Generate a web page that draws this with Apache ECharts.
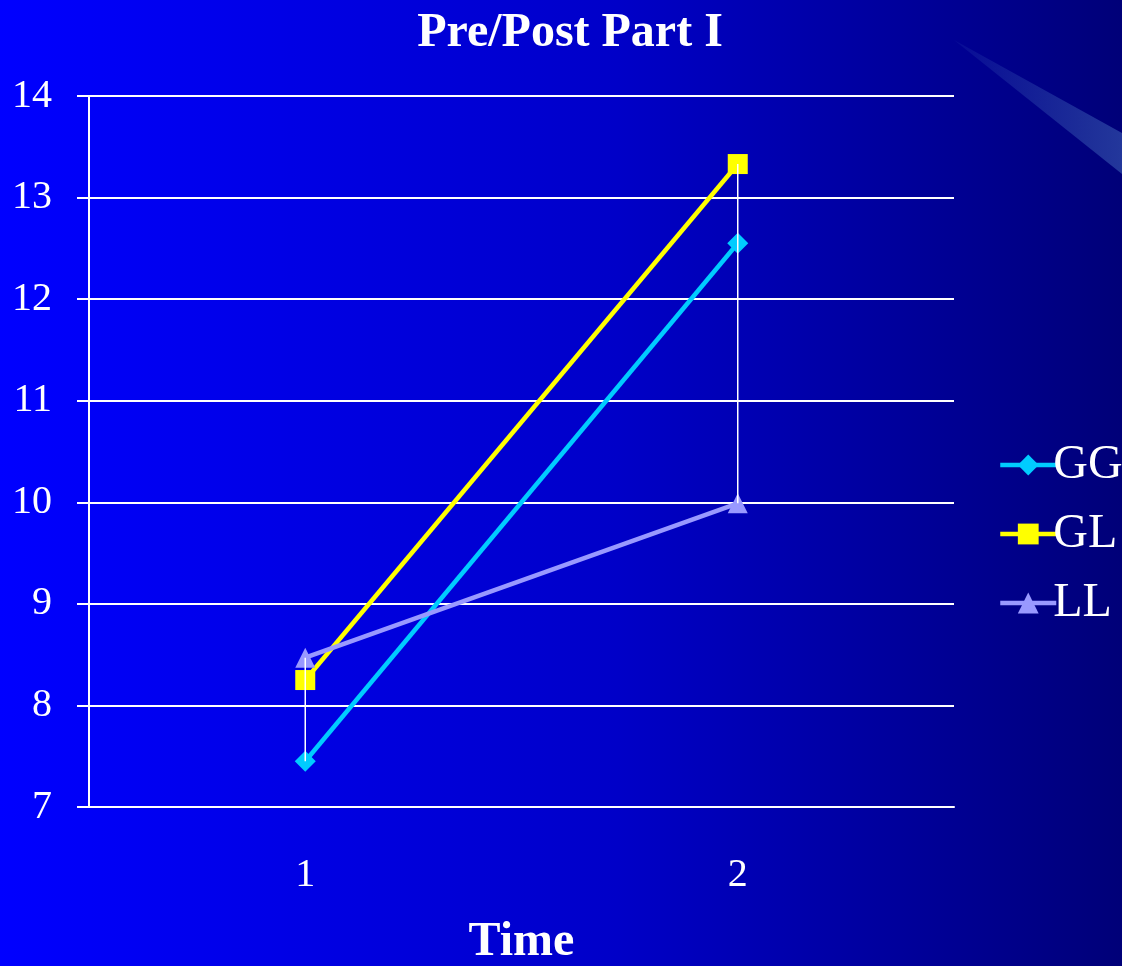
<!DOCTYPE html>
<html>
<head>
<meta charset="utf-8">
<script src="https://cdn.jsdelivr.net/npm/echarts@6/dist/echarts.min.js"></script>
<style>
html, body { margin: 0; padding: 0; }
#main { width: 1122px; height: 966px; }
</style>
</head>
<body>
<div id="main"></div>
<script>
// data
var categories = ['1', '2'];
var seriesNames = ['GG', 'GL', 'LL'];
var ggValues = [7.45, 12.55];
var glValues = [8.25, 13.33];
var llValues = [8.47, 9.99];
var yTicks = { min: 7, max: 14, step: 1 };

var colors = ['#00ccff', '#ffff00', '#9999ff'];
var serif = '"Liberation Serif", "DejaVu Serif", serif';

// high-low lines: min and max of all series at each category
var hiLo = categories.map(function(c, i) {
    var vals = [ggValues[i], glValues[i], llValues[i]];
    return [i, Math.min.apply(null, vals), Math.max.apply(null, vals)];
});

var myChart = echarts.init(document.getElementById('main'));

function lineSeries(name, data, symbol, size, color) {
    return {
        name: name,
        type: 'line',
        data: data,
        symbol: symbol,
        symbolSize: size,
        showAllSymbol: true,
        lineStyle: { color: color, width: 4.5 },
        itemStyle: { color: color, borderWidth: 0 },
        z: 3
    };
}

var option = {
    backgroundColor: {
        type: 'linear', x: 0, y: 0, x2: 1, y2: 0,
        colorStops: [
            { offset: 0, color: '#0000ff' },
            { offset: 0.55, color: '#0000c8' },
            { offset: 1, color: '#000078' }
        ]
    },
    graphic: [{
        type: 'polygon',
        shape: { points: [[954, 40], [1122, 133], [1122, 174]] },
        style: {
            fill: {
                type: 'linear', x: 0, y: 0, x2: 1, y2: 0,
                colorStops: [
                    { offset: 0, color: 'rgba(70,110,190,0.1)' },
                    { offset: 1, color: 'rgba(70,110,190,0.5)' }
                ]
            }
        },
        z: -1
    }],
    title: {
        text: 'Pre/Post Part I',
        left: 565,
        textAlign: 'center',
        top: 5,
        textStyle: { color: '#fff', fontFamily: serif, fontSize: 48, fontWeight: 'bold' }
    },
    legend: {
        orient: 'vertical',
        left: 993,
        top: 436,
        itemWidth: 56,
        itemHeight: 26,
        itemGap: 21,
        data: seriesNames,
        lineStyle: { width: 4.5 },
        textStyle: { color: '#fff', fontFamily: serif, fontSize: 48, padding: [0, 0, 0, -8] }
    },
    grid: { left: 89, right: 168, top: 96, bottom: 159, outerBoundsMode: 'none' },
    xAxis: {
        type: 'category',
        data: categories,
        boundaryGap: true,
        name: 'Time',
        nameLocation: 'middle',
        nameGap: 112,
        nameTextStyle: { color: '#fff', fontFamily: serif, fontSize: 48, fontWeight: 'bold' },
        axisLine: { show: true, lineStyle: { color: '#fff', width: 2 } },
        axisTick: { show: false },
        axisLabel: { color: '#fff', fontFamily: serif, fontSize: 40, margin: 48 }
    },
    yAxis: {
        type: 'value',
        min: yTicks.min,
        max: yTicks.max,
        interval: yTicks.step,
        axisLine: { show: true, lineStyle: { color: '#fff', width: 2 } },
        axisTick: { show: true, length: 12, lineStyle: { color: '#fff', width: 2 } },
        splitLine: { show: true, lineStyle: { color: '#fff', width: 2 } },
        axisLabel: { color: '#fff', fontFamily: serif, fontSize: 40, margin: 37 }
    },
    series: [
        lineSeries('GG', ggValues, 'diamond', 21, colors[0]),
        lineSeries('GL', glValues, 'rect', 20, colors[1]),
        lineSeries('LL', llValues, 'triangle', 20, colors[2]),
        {
            type: 'custom',
            name: 'hilo',
            data: hiLo,
            silent: true,
            z: 5,
            renderItem: function(params, api) {
                var lo = api.coord([api.value(0), api.value(1)]);
                var hi = api.coord([api.value(0), api.value(2)]);
                return {
                    type: 'line',
                    shape: { x1: lo[0], y1: lo[1], x2: hi[0], y2: hi[1] },
                    style: { stroke: '#fff', lineWidth: 1.5 }
                };
            }
        }
    ]
};

myChart.setOption(option);
</script>
</body>
</html>
